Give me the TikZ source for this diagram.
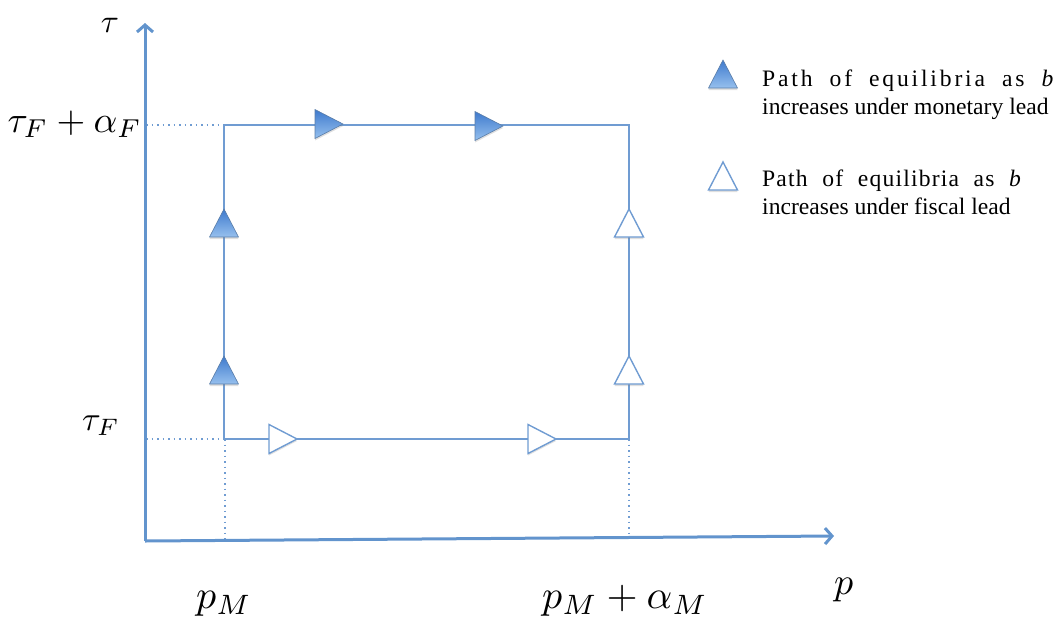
\documentclass[tikz,border=0pt]{standalone}
\usepackage{graphicx}
\usepackage{fontspec}
\setmainfont{Liberation Serif}
\usetikzlibrary{arrows.meta,shadows}
\definecolor{axisblue}{RGB}{98,148,205}
\definecolor{lineblue}{RGB}{112,156,210}
\definecolor{tridark}{RGB}{62,122,205}
\definecolor{trilight}{RGB}{150,192,238}
\begin{document}
\begin{tikzpicture}[x=1pt,y=-1pt,
  axis/.style={draw=axisblue,line width=3pt,-{Straight Barb[length=7pt,width=16pt,line width=3pt]}},
  edge/.style={draw=lineblue,line width=1.8pt},
  guide/.style={draw=lineblue,line width=1.5pt,dash pattern=on 1.5pt off 4pt},
  filltri/.pic={\path[shading=axis,left color=tridark,right color=trilight,shading angle=0,
      draw=lineblue!80!black,line width=0.6pt,
      drop shadow={opacity=0.25,shadow xshift=0pt,shadow yshift=-2pt}]
      (0,-14.5) -- (28,0) -- (0,14.5) -- cycle;},
  opentri/.pic={\path[fill=white,draw=lineblue,line width=1.4pt,
      drop shadow={opacity=0.25,shadow xshift=0pt,shadow yshift=-2pt}]
      (0,-14.5) -- (28,0) -- (0,14.5) -- cycle;},
  lbl/.style={inner sep=0pt},
  legtext/.style={inner sep=0pt,anchor=base west,font=\fontsize{23.6}{28}\selectfont}
]
\useasboundingbox (0,0) rectangle (1063,619);

% coordinates
\coordinate (O) at (145,541);
\coordinate (Ytop) at (145,23);
\coordinate (Xend) at (834,536);
\coordinate (BL) at (224,439);
\coordinate (TL) at (224,125);
\coordinate (TR) at (629,125);
\coordinate (BR) at (629,439);
\coordinate (YTL) at (146,125);
\coordinate (YBL) at (146,439);
\coordinate (XBL) at (225,540);
\coordinate (XBR) at (629,537);

% guides
\draw[guide] (YTL) -- (TL);
\draw[guide] (YBL) -- (BL);
\draw[guide] (BL) ++(1,0) -- (XBL);
\draw[guide] (BR) -- (XBR);

% rectangle path
\draw[edge] (BL) -- (TL) -- (TR) -- (BR) -- cycle;

% axes
\draw[axis] (O) -- (Ytop);
\draw[axis] (O) -- (Xend);

% triangles on left (filled, up)
\pic[rotate=90] at (224,237) {filltri};
\pic[rotate=90] at (224,384) {filltri};
% top (filled, right)
\pic at (315,124) {filltri};
\pic at (475,126) {filltri};
% bottom (open, right)
\pic at (269,439) {opentri};
\pic at (528,439) {opentri};
% right (open, up)
\pic[rotate=90] at (629,237) {opentri};
\pic[rotate=90] at (629,384) {opentri};

% legend
\pic[rotate=90] at (723,88) {filltri};
\pic[rotate=90] at (723,190) {opentri};
\node[legtext] (l1a) at (762,86) {\makebox[294pt][s]{\addfontfeatures{LetterSpace=12}Path of equilibria as \textit{b}}};
\node[legtext] (l1b) at (762,114) {increases under monetary lead};
\node[legtext] (l2a) at (762,186) {\makebox[260pt][s]{\addfontfeatures{LetterSpace=5}Path of equilibria as \textit{b}}};
\node[legtext] (l2b) at (762,214) {increases under fiscal lead};

% math labels
\node[lbl,anchor=base] (tau) at (110,32) {\scalebox{3.3}{$\tau$}};
\node[lbl,anchor=base east] (tauFa) at (142,132) {\scalebox{3.7}{$\tau_F+\alpha_F$}};
\node[lbl,anchor=base west] (tauF) at (82,430) {\scalebox{3.4}{$\tau_F$}};
\node[lbl,anchor=base west] (pM) at (196,608) {\scalebox{4}{$p_M$}};
\node[lbl,anchor=base west] (pMa) at (542,608) {\scalebox{4}{$p_M+\alpha_M$}};
\node[lbl,anchor=base west] (p) at (834,594) {\scalebox{3.8}{$p$}};
\end{tikzpicture}
\end{document}
